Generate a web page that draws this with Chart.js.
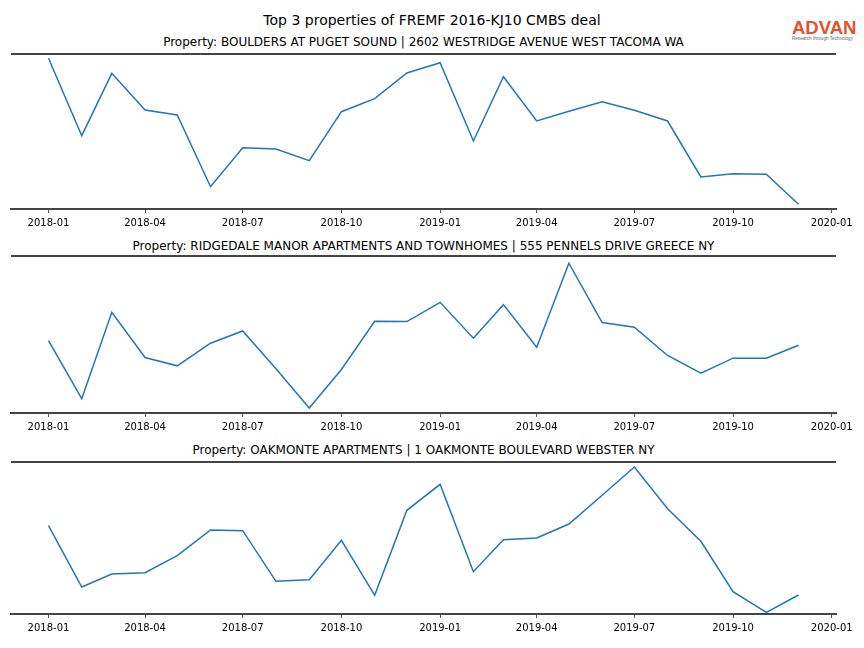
<!DOCTYPE html>
<html>
<head>
<meta charset="utf-8">
<script src="https://cdn.jsdelivr.net/npm/chart.js@4/dist/chart.umd.min.js"></script>
<style>
  html, body { margin: 0; padding: 0; background: #fff; }
  body { width: 864px; height: 648px; position: relative; overflow: hidden; font-family: "DejaVu Sans", sans-serif; color: #000; }
  .t { position: absolute; white-space: nowrap; text-align: center; }
  canvas { position: absolute; left: 0; }
</style>
</head>
<body>
<div class="t" id="suptitle" style="left:0; width:864px; top:13px; font-size:14px; line-height:14px;"></div>
<div class="t" id="title1" style="left:11px; width:825px; top:35.5px; font-size:12px; line-height:12px;"></div>
<div class="t" id="title2" style="left:11px; width:825px; top:240px; font-size:12px; line-height:12px;"></div>
<div class="t" id="title3" style="left:11px; width:825px; top:444px; font-size:12px; line-height:12px;"></div>
<div style="position:absolute; left:792px; top:18px; font-family:'Liberation Sans', Arial, sans-serif; font-size:18.5px; font-weight:bold; line-height:19px; color:#e4532b;">ADVAN</div>
<div style="position:absolute; left:792px; top:35.5px; font-family:'Liberation Sans', Arial, sans-serif; font-size:4.6px; line-height:5px; color:#666;">Research through Technology</div>
<canvas id="c1" width="864" height="183" style="top:50px;"></canvas>
<canvas id="c2" width="864" height="185" style="top:252px;"></canvas>
<canvas id="c3" width="864" height="180" style="top:458px;"></canvas>
<script>
const suptitle = "Top 3 properties of FREMF 2016-KJ10 CMBS deal";
const titles = [
  "Property: BOULDERS AT PUGET SOUND | 2602 WESTRIDGE AVENUE WEST TACOMA WA",
  "Property: RIDGEDALE MANOR APARTMENTS AND TOWNHOMES | 555 PENNELS DRIVE GREECE NY",
  "Property: OAKMONTE APARTMENTS | 1 OAKMONTE BOULEVARD WEBSTER NY"
];
const months = ["2018-01","2018-02","2018-03","2018-04","2018-05","2018-06","2018-07","2018-08","2018-09","2018-10","2018-11","2018-12",
                "2019-01","2019-02","2019-03","2019-04","2019-05","2019-06","2019-07","2019-08","2019-09","2019-10","2019-11","2019-12"];
const boulders  = [1507,733,1357,990,940,223,613,600,483,973,1103,1360,1463,680,1323,880,977,1073,987,880,320,353,347,47];
const ridgedale = [727,143,1010,557,473,700,823,443,50,437,920,917,1110,750,1087,660,1503,907,860,577,400,550,550,680];
const oakmonte  = [883,270,400,413,583,840,833,327,343,737,187,1037,1297,423,743,760,900,1187,1470,1053,727,223,17,190];
const tickLabels = ["2018-01","2018-04","2018-07","2018-10","2019-01","2019-04","2019-07","2019-10","2020-01"];
const yMax = [1550, 1575, 1520];

document.getElementById('suptitle').textContent = suptitle;
titles.forEach((t, i) => document.getElementById('title' + (i + 1)).textContent = t);

function dayOf(label) {
  const [y, m] = label.split('-').map(Number);
  return (Date.UTC(y, m - 1, 1) - Date.UTC(2018, 0, 1)) / 864e5;
}
const xs = months.map(dayOf);
const tickDays = tickLabels.map(dayOf);
const span = xs[xs.length - 1] - xs[0];
const xMin = xs[0] - 0.05 * span;
const xMax = xs[xs.length - 1] + 0.05 * span;

Chart.defaults.font.family = "'DejaVu Sans', sans-serif";
Chart.defaults.font.size = 10;
Chart.defaults.color = '#000';

const frameTop = {
  id: 'frameTop',
  afterDraw(chart) {
    const { ctx, chartArea: { left, right, top } } = chart;
    ctx.save();
    ctx.strokeStyle = '#444';
    ctx.lineWidth = 2;
    ctx.beginPath();
    ctx.moveTo(left, top);
    ctx.lineTo(right, top);
    ctx.stroke();
    ctx.restore();
  }
};

function makeChart(id, values, ymax) {
  new Chart(document.getElementById(id), {
    type: 'line',
    data: {
      datasets: [{
        data: xs.map((x, i) => ({ x: x, y: values[i] })),
        borderColor: '#1f77b4',
        borderWidth: 1.5,
        pointRadius: 0,
        tension: 0,
        fill: false
      }]
    },
    options: {
      responsive: false,
      animation: false,
      devicePixelRatio: 1,
      layout: { padding: { left: 11, right: 28, top: 4, bottom: 0 } },
      plugins: { legend: { display: false }, tooltip: { enabled: false }, title: { display: false } },
      scales: {
        x: {
          type: 'linear',
          min: xMin,
          max: xMax,
          afterBuildTicks: (scale) => { scale.ticks = tickDays.map(v => ({ value: v })); },
          ticks: {
            autoSkip: false,
            maxRotation: 0,
            padding: 4,
            color: '#000',
            font: { size: 10 },
            callback: (value, index) => tickLabels[index]
          },
          grid: { display: true, drawOnChartArea: false, drawTicks: true, tickLength: 4, color: '#555', lineWidth: 1 },
          border: { display: true, color: '#444', width: 2 }
        },
        y: {
          display: false,
          min: 0,
          max: ymax
        }
      }
    },
    plugins: [frameTop]
  });
}

makeChart('c1', boulders, yMax[0]);
makeChart('c2', ridgedale, yMax[1]);
makeChart('c3', oakmonte, yMax[2]);
</script>
</body>
</html>
